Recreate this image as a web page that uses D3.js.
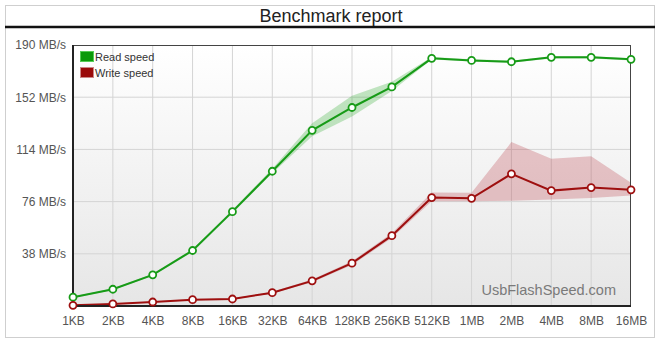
<!DOCTYPE html>
<html>
<head>
<meta charset="utf-8">
<script src="https://cdn.jsdelivr.net/npm/d3@7"></script>
<style>
  body { margin: 0; background: #fff; font-family: "Liberation Sans", Arial, sans-serif; }
</style>
</head>
<body>
<div id="chart"></div>
<script>
// data
const blockSizes = ['1KB', '2KB', '4KB', '8KB', '16KB', '32KB', '64KB', '128KB', '256KB', '512KB', '1MB', '2MB', '4MB', '8MB', '16MB'];
const readSpeed = [6.4, 12.2, 22.7, 40.4, 68.7, 98.1, 127.9, 144.5, 159.5, 180.3, 178.8, 177.8, 181, 181, 179.6];
const readMin = [5.9, 11.6, 22, 39.4, 67.6, 96.6, 123.5, 138, 156.6, 179.4, 178, 177, 180.2, 180.2, 178.8];
const readMax = [6.9, 12.8, 23.4, 41.4, 69.8, 100, 133, 153, 163.2, 181.2, 179.6, 178.6, 181.8, 181.8, 180.4];
const writeSpeed = [0.5, 1.5, 2.9, 4.6, 5.1, 9.7, 18.3, 31.2, 51.2, 78.9, 78.4, 96.2, 84, 86.2, 84.6];
const writeMin = [0.3, 1.2, 2.5, 4.2, 4.7, 9.1, 17.3, 29.8, 49.5, 76.2, 76.2, 76.7, 77.5, 78.7, 80.4];
const writeMax = [0.8, 1.8, 3.3, 5, 5.5, 10.3, 19.3, 32.6, 53, 82.6, 82.4, 119.3, 107.2, 109.1, 89.7];
const yTicks = [38, 76, 114, 152, 190];

const width = 660, height = 345;
const margin = { top: 45, right: 29, bottom: 39, left: 73 };

const svg = d3.select('#chart').append('svg')
  .attr('width', width)
  .attr('height', height);

const defs = svg.append('defs');
const grad = defs.append('linearGradient')
  .attr('id', 'plotBg').attr('x1', 0).attr('y1', 0).attr('x2', 0).attr('y2', 1);
grad.append('stop').attr('offset', '0%').attr('stop-color', '#ffffff');
grad.append('stop').attr('offset', '100%').attr('stop-color', '#e6e6e6');

// outer frame + title
svg.append('rect')
  .attr('x', 5.5).attr('y', 5.5)
  .attr('width', 649).attr('height', 332)
  .attr('fill', '#fff').attr('stroke', '#cfcfcf');
svg.append('line')
  .attr('x1', 5).attr('x2', 655).attr('y1', 27).attr('y2', 27)
  .attr('stroke', '#111').attr('stroke-width', 2.5);
svg.append('text')
  .attr('x', 331).attr('y', 22)
  .attr('text-anchor', 'middle')
  .attr('font-size', 18)
  .attr('fill', '#222')
  .text('Benchmark report');

const x = d3.scalePoint()
  .domain(blockSizes)
  .range([margin.left, width - margin.right]);

const y = d3.scaleLinear()
  .domain([0, 190])
  .range([height - margin.bottom, margin.top]);

// plot background
svg.append('rect')
  .attr('x', margin.left).attr('y', margin.top)
  .attr('width', width - margin.left - margin.right)
  .attr('height', height - margin.top - margin.bottom)
  .attr('fill', 'url(#plotBg)');

// grid
svg.append('g')
  .selectAll('line')
  .data(blockSizes.slice(1, -1))
  .join('line')
  .attr('x1', d => x(d)).attr('x2', d => x(d))
  .attr('y1', margin.top).attr('y2', height - margin.bottom)
  .attr('stroke', '#d4d4d4');
svg.append('g')
  .selectAll('line')
  .data(yTicks.slice(0, -1))
  .join('line')
  .attr('x1', margin.left).attr('x2', width - margin.right)
  .attr('y1', d => y(d)).attr('y2', d => y(d))
  .attr('stroke', '#d4d4d4');

// watermark
svg.append('text')
  .attr('x', 616).attr('y', 295)
  .attr('text-anchor', 'end')
  .attr('font-size', 14.5)
  .attr('fill', '#7a7a7a')
  .text('UsbFlashSpeed.com');

// bands
const area = (lo, hi) => d3.area()
  .x((d, i) => x(blockSizes[i]))
  .y0((d, i) => y(lo[i]))
  .y1((d, i) => y(hi[i]));

svg.append('path')
  .attr('d', area(readMin, readMax)(blockSizes))
  .attr('fill', 'rgba(40,170,40,0.28)');
svg.append('path')
  .attr('d', area(writeMin, writeMax)(blockSizes))
  .attr('fill', 'rgba(180,40,50,0.25)');

// lines
const line = d3.line()
  .x((d, i) => x(blockSizes[i]))
  .y(d => y(d));

const series = [
  { values: readSpeed, color: '#179b17' },
  { values: writeSpeed, color: '#9e0f0f' }
];

series.forEach(s => {
  svg.append('path')
    .attr('d', line(s.values))
    .attr('fill', 'none')
    .attr('stroke', s.color)
    .attr('stroke-width', 2);
});

// frame
svg.append('rect')
  .attr('x', margin.left).attr('y', margin.top + 0.5)
  .attr('width', width - margin.left - margin.right - 0.5)
  .attr('height', height - margin.top - margin.bottom)
  .attr('fill', 'none')
  .attr('stroke', '#444');
svg.append('line')
  .attr('x1', margin.left).attr('x2', margin.left)
  .attr('y1', margin.top).attr('y2', height - margin.bottom + 1)
  .attr('stroke', '#222').attr('stroke-width', 2);
svg.append('line')
  .attr('x1', margin.left).attr('x2', width - margin.right)
  .attr('y1', height - margin.bottom).attr('y2', height - margin.bottom)
  .attr('stroke', '#222').attr('stroke-width', 2);

// markers
series.forEach(s => {
  svg.append('g')
    .selectAll('circle')
    .data(s.values)
    .join('circle')
    .attr('cx', (d, i) => x(blockSizes[i]))
    .attr('cy', d => y(d))
    .attr('r', 3.5)
    .attr('fill', '#fff')
    .attr('stroke', s.color)
    .attr('stroke-width', 1.8);
});

// axes
const xAxis = svg.append('g')
  .attr('transform', `translate(0, ${height - margin.bottom})`)
  .call(d3.axisBottom(x).tickSize(0).tickPadding(10));
xAxis.select('.domain').remove();
xAxis.selectAll('text')
  .attr('font-family', '"Liberation Sans", Arial, sans-serif')
  .attr('font-size', 12)
  .attr('fill', '#555');

const yAxis = svg.append('g')
  .attr('transform', `translate(${margin.left}, 0)`)
  .call(d3.axisLeft(y).tickValues(yTicks).tickSize(0).tickPadding(7).tickFormat(d => d + ' MB/s'));
yAxis.select('.domain').remove();
yAxis.selectAll('text')
  .attr('font-family', '"Liberation Sans", Arial, sans-serif')
  .attr('font-size', 12)
  .attr('fill', '#555');

// legend
const legend = svg.append('g').attr('transform', 'translate(80, 51)');
[['Read speed', '#0a9a0a', '#5c5'], ['Write speed', '#9a0a0a', '#c88']].forEach(([name, fill, edge], i) => {
  legend.append('rect')
    .attr('x', 0.5).attr('y', i * 16 + 0.5)
    .attr('width', 13).attr('height', 10)
    .attr('fill', fill)
    .attr('stroke', edge);
  legend.append('text')
    .attr('x', 15).attr('y', i * 16 + 10)
    .attr('font-size', 11)
    .attr('fill', '#333')
    .text(name);
});
</script>
</body>
</html>
